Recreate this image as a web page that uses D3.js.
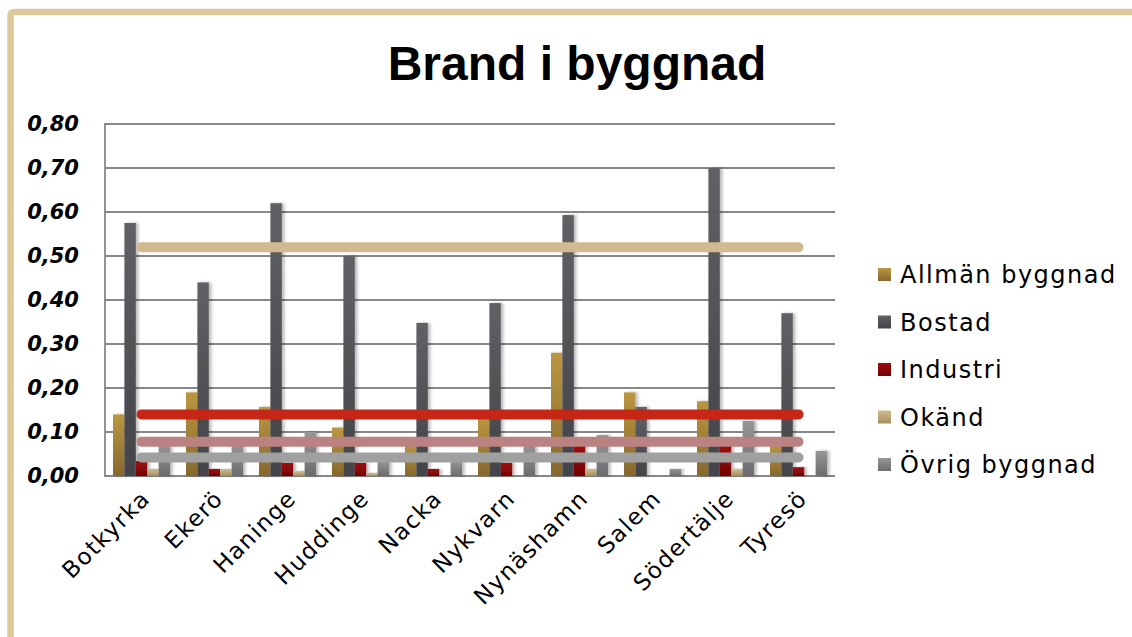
<!DOCTYPE html>
<html><head><meta charset="utf-8">
<script src="https://cdn.jsdelivr.net/npm/d3@7"></script>
<style>
html,body{margin:0;padding:0;background:#fff;}
svg{display:block;}
</style></head>
<body>
<svg id="chart" width="1132" height="637"></svg>
<script>
// ---- data ----
const categories = ["Botkyrka","Ekerö","Haninge","Huddinge","Nacka","Nykvarn","Nynäshamn","Salem","Södertälje","Tyresö"];
const seriesNames = ["Allmän byggnad","Bostad","Industri","Okänd","Övrig byggnad"];
const allman   = [0.14, 0.19, 0.157, 0.11, 0.075, 0.135, 0.28, 0.19, 0.17, 0.075];
const bostad   = [0.575, 0.44, 0.62, 0.50, 0.348, 0.393, 0.593, 0.157, 0.70, 0.37];
const industri = [0.034, 0.016, 0.03, 0.03, 0.016, 0.03, 0.075, 0, 0.075, 0.02];
const okand    = [0.016, 0.016, 0.011, 0.007, 0, 0, 0.016, 0, 0.016, 0];
const ovrig    = [0.075, 0.075, 0.10, 0.035, 0.035, 0.075, 0.093, 0.016, 0.125, 0.057];
const refLines = [0.52, 0.14, 0.078, 0.042];
const yTicks = [0, 0.1, 0.2, 0.3, 0.4, 0.5, 0.6, 0.7, 0.8];
const title = "Brand i byggnad";

const seriesValues = [allman, bostad, industri, okand, ovrig];
const barGrad = [["#BB9741","#86682D"],["#606165","#434448"],["#A00C0C","#730404"],["#D0BC8E","#A68E5C"],["#97979A","#6C6C6F"]];
const lineColors = ["#D3B991","#C52616","#BB8282","#A0A0A0"];

const svg = d3.select("#chart");
const defs = svg.append("defs");
barGrad.forEach((g,i)=>{
  const lg = defs.append("linearGradient").attr("id","g"+i).attr("x1",0).attr("y1",0).attr("x2",0).attr("y2",1);
  lg.append("stop").attr("offset","0%").attr("stop-color",g[0]);
  lg.append("stop").attr("offset","100%").attr("stop-color",g[1]);
});
const f = defs.append("filter").attr("id","sh").attr("x","-50%").attr("y","-10%").attr("width","200%").attr("height","120%");
f.append("feDropShadow").attr("dx",2.5).attr("dy",0).attr("stdDeviation",1.6).attr("flood-color","#000").attr("flood-opacity",0.28);

// frame
svg.append("path").attr("d","M10.5,637 V16 Q10.5,12 14.5,12 H1132")
  .attr("fill","none").attr("stroke","#DCC89A").attr("stroke-width",6.5);

// scales
const x = d3.scaleBand().domain(categories).range([105,835]).paddingInner(0.219).paddingOuter(0.1095);
const xs = d3.scaleBand().domain(seriesNames).range([0, x.bandwidth()]);
const y = d3.scaleLinear().domain([0,0.8]).range([476,124]);

// title
svg.append("text").attr("x",577).attr("y",80).attr("text-anchor","middle")
  .style("font-family","'Liberation Sans', Arial, sans-serif").style("font-weight","bold").style("font-size","48px")
  .attr("fill","#000").text(title);

// gridlines
svg.append("g").selectAll("line").data(yTicks).join("line")
  .attr("x1",105).attr("x2",835).attr("y1",d=>y(d)).attr("y2",d=>y(d))
  .attr("stroke","#878787").attr("stroke-width",1.8);
svg.append("line").attr("x1",105).attr("x2",105).attr("y1",y(0.8)-0.9).attr("y2",y(0)+0.9)
  .attr("stroke","#878787").attr("stroke-width",1.8);

// y axis labels
const yAxis = d3.axisLeft(y).tickValues(yTicks).tickSize(0).tickPadding(0)
  .tickFormat(d=>d3.format(".2f")(d).replace(".",","));
const ya = svg.append("g").attr("transform","translate(79,0)").call(yAxis);
ya.select(".domain").remove();
ya.selectAll("text").style("font-family","'DejaVu Sans', sans-serif").style("font-weight","bold")
  .style("font-style","italic").style("font-size","21px").attr("fill","#000");

// bars
const bars = svg.append("g");
seriesValues.forEach((vals,si)=>{
  bars.append("g").selectAll("rect").data(vals.map((v,i)=>({c:categories[i],v}))).join("rect")
    .filter(d=>d.v>0)
    .attr("x",d=>x(d.c)+xs(seriesNames[si]))
    .attr("width",xs.bandwidth())
    .attr("y",d=>y(d.v))
    .attr("height",d=>y(0)-y(d.v))
    .attr("fill","url(#g"+si+")")
    .attr("filter","url(#sh)");
});

// reference lines
const line = d3.line().x(d=>x(d.c)+x.bandwidth()/2).y(d=>y(d.v));
refLines.forEach((v,i)=>{
  svg.append("path").attr("d",line(categories.map(c=>({c,v}))))
    .attr("fill","none").attr("stroke",lineColors[i]).attr("stroke-width",10).attr("stroke-linecap","round");
});

// x labels
const xAxis = d3.axisBottom(x).tickSize(0).tickPadding(0);
const xa = svg.append("g").attr("transform","translate(0,476)").call(xAxis);
xa.select(".domain").remove();
xa.selectAll("text").attr("y",0).attr("dy",0).attr("text-anchor","end")
  .attr("transform","translate(10,24) rotate(-45)")
  .style("font-family","'DejaVu Sans', sans-serif").style("font-size","23px").style("letter-spacing","1.4px")
  .attr("fill","#000");

// legend
const lg = svg.append("g");
seriesNames.forEach((n,i)=>{
  const yy = 283 + i*47.5;
  lg.append("rect").attr("x",878).attr("y",yy-15).attr("width",13).attr("height",13).attr("fill","url(#g"+i+")");
  lg.append("text").attr("x",900).attr("y",yy).text(n)
    .style("font-family","'DejaVu Sans', sans-serif").style("font-size","24px").style("letter-spacing","1.5px").attr("fill","#000");
});
</script>
</body></html>
